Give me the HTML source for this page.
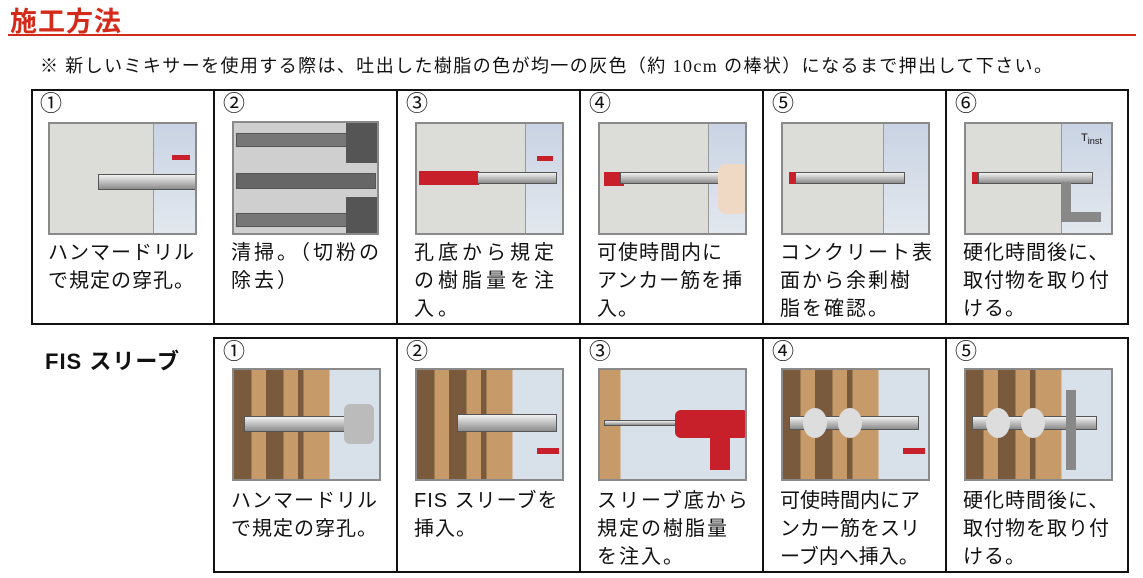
<!DOCTYPE html>
<html><head><meta charset="utf-8">
<style>
*{margin:0;padding:0;box-sizing:border-box}
body{width:1143px;height:578px;background:#fff;position:relative;overflow:hidden;font-family:"Liberation Sans","Noto Sans CJK JP",sans-serif;color:#111}
.a{position:absolute}
.title{left:10px;top:0px;font-size:27px;font-weight:bold;color:#d42a1a;letter-spacing:1px}
.rule{left:8px;top:34px;width:1128px;height:2px;background:#d42a1a}
.note{left:40px;top:52px;font-size:18px;white-space:nowrap;letter-spacing:1.4px;font-family:"Liberation Serif","Noto Sans CJK JP",serif}
.tbl{border:2px solid #111}
.vl{width:2px;background:#111}
.num{font-size:22px;line-height:22px}
.txt{font-size:20px;line-height:28px;white-space:nowrap;letter-spacing:1px}
.pc{border:2px solid #8a8a8a;background:#dcdcd8;overflow:hidden}
.pc .sky{position:absolute;top:0;bottom:0;background:linear-gradient(#c9d3e3,#e3e8ef);border-left:1px solid #999}
.pb{border:2px solid #8a8a8a;overflow:hidden;background:linear-gradient(90deg,#7a5a3c 0 12%,#c79a6a 12% 22%,#7a5a3c 22% 34%,#c79a6a 34% 44%,#7a5a3c 44% 48%,#c79a6a 48% 66%,#d8e0ea 66%)}
.rod{position:absolute;height:12px;background:linear-gradient(#f2f2f2,#8c8c8c);border:1px solid #555}
.red{position:absolute;background:#c8202a}
</style></head><body>
<div class="a title">施工方法</div>
<div class="a rule"></div>
<div class="a note">※ 新しいミキサーを使用する際は、吐出した樹脂の色が均一の灰色（約 10cm の棒状）になるまで押出して下さい。</div>

<div class="a tbl" style="left:31px;top:89px;width:1098px;height:236px"></div>
<div class="a vl" style="left:213px;top:89px;height:236px"></div>
<div class="a vl" style="left:396px;top:89px;height:236px"></div>
<div class="a vl" style="left:579px;top:89px;height:236px"></div>
<div class="a vl" style="left:762px;top:89px;height:236px"></div>
<div class="a vl" style="left:945px;top:89px;height:236px"></div>

<div class="a num" style="left:40px;top:93px">①</div>
<div class="a num" style="left:223px;top:93px">②</div>
<div class="a num" style="left:406px;top:93px">③</div>
<div class="a num" style="left:589px;top:93px">④</div>
<div class="a num" style="left:772px;top:93px">⑤</div>
<div class="a num" style="left:955px;top:93px">⑥</div>

<div class="a pc" style="left:48px;top:122px;width:149px;height:113px"><div class="sky" style="left:103px;right:0"></div><div class="rod" style="left:48px;top:50px;width:100px;height:16px"></div><div class="red" style="left:122px;top:31px;width:18px;height:5px"></div></div>
<div class="a pc" style="left:232px;top:121px;width:147px;height:114px;background:#cfcfcf"><div class="rod" style="left:2px;top:10px;width:120px;height:14px;background:#777"></div><div class="rod" style="left:2px;top:50px;width:140px;height:16px;background:#666"></div><div class="rod" style="left:2px;top:90px;width:120px;height:14px;background:#777"></div><div class="a" style="left:112px;top:0;width:35px;height:40px;background:#555"></div><div class="a" style="left:112px;top:74px;width:35px;height:40px;background:#555"></div></div>
<div class="a pc" style="left:415px;top:122px;width:149px;height:113px"><div class="sky" style="left:108px;right:0"></div><div class="red" style="left:2px;top:47px;width:60px;height:14px"></div><div class="rod" style="left:60px;top:48px;width:80px"></div><div class="red" style="left:120px;top:32px;width:16px;height:5px"></div></div>
<div class="a pc" style="left:598px;top:122px;width:149px;height:113px"><div class="sky" style="left:108px;right:0"></div><div class="red" style="left:4px;top:48px;width:20px;height:14px"></div><div class="rod" style="left:20px;top:48px;width:100px"></div><div class="a" style="left:118px;top:40px;width:30px;height:50px;background:#f0d9c4;border-radius:8px"></div></div>
<div class="a pc" style="left:781px;top:122px;width:149px;height:113px"><div class="sky" style="left:100px;right:0"></div><div class="red" style="left:6px;top:48px;width:8px;height:12px"></div><div class="rod" style="left:12px;top:48px;width:110px"></div></div>
<div class="a pc" style="left:964px;top:122px;width:149px;height:113px"><div class="sky" style="left:95px;right:0"></div><div class="red" style="left:6px;top:48px;width:8px;height:12px"></div><div class="rod" style="left:12px;top:48px;width:115px"></div><div class="a" style="left:95px;top:58px;width:40px;height:40px;border-left:10px solid #888;border-bottom:10px solid #888"></div><div class="a" style="left:115px;top:8px;font-size:11px">T<sub>inst</sub></div></div>

<div class="a txt" style="left:48px;top:239px">ハンマードリル<br>で規定の穿孔。</div>
<div class="a txt" style="left:231px;top:239px;letter-spacing:3px">清掃。（切粉の<br>除去）</div>
<div class="a txt" style="left:414px;top:239px;letter-spacing:4px">孔底から規定<br>の樹脂量を注<br>入。</div>
<div class="a txt" style="left:597px;top:239px">可使時間内に<br>アンカー筋を挿<br>入。</div>
<div class="a txt" style="left:780px;top:239px;letter-spacing:2px">コンクリート表<br>面から余剰樹<br>脂を確認。</div>
<div class="a txt" style="left:963px;top:239px">硬化時間後に、<br>取付物を取り付<br>ける。</div>

<div class="a" style="left:45px;top:344px;font-size:22px;font-weight:bold;letter-spacing:1px">FIS スリーブ</div>
<div class="a tbl" style="left:213px;top:337px;width:916px;height:236px"></div>
<div class="a vl" style="left:396px;top:337px;height:236px"></div>
<div class="a vl" style="left:579px;top:337px;height:236px"></div>
<div class="a vl" style="left:762px;top:337px;height:236px"></div>
<div class="a vl" style="left:945px;top:337px;height:236px"></div>

<div class="a num" style="left:223px;top:341px">①</div>
<div class="a num" style="left:406px;top:341px">②</div>
<div class="a num" style="left:589px;top:341px">③</div>
<div class="a num" style="left:772px;top:341px">④</div>
<div class="a num" style="left:955px;top:341px">⑤</div>

<div class="a pb" style="left:232px;top:368px;width:149px;height:113px"><div class="rod" style="left:10px;top:46px;width:110px;height:16px"></div><div class="a" style="left:110px;top:34px;width:30px;height:40px;background:#bbb;border-radius:6px"></div></div>
<div class="a pb" style="left:415px;top:368px;width:149px;height:113px"><div class="rod" style="left:40px;top:44px;width:100px;height:18px"></div><div class="red" style="left:120px;top:78px;width:22px;height:6px"></div></div>
<div class="a pb" style="left:598px;top:368px;width:149px;height:113px;background:linear-gradient(90deg,#c79a6a 0 14%,#d8e0ea 14%)"><div class="rod" style="left:4px;top:50px;width:80px;height:6px"></div><div class="red" style="left:75px;top:40px;width:74px;height:28px;border-radius:6px"></div><div class="red" style="left:110px;top:60px;width:20px;height:40px"></div></div>
<div class="a pb" style="left:781px;top:368px;width:149px;height:113px"><div class="rod" style="left:6px;top:46px;width:130px;height:14px"></div><div class="a" style="left:20px;top:38px;width:24px;height:30px;background:#ddd;border-radius:50%"></div><div class="a" style="left:55px;top:38px;width:24px;height:30px;background:#ddd;border-radius:50%"></div><div class="red" style="left:120px;top:78px;width:22px;height:6px"></div></div>
<div class="a pb" style="left:964px;top:368px;width:149px;height:113px"><div class="rod" style="left:6px;top:46px;width:125px;height:14px"></div><div class="a" style="left:20px;top:38px;width:24px;height:30px;background:#ddd;border-radius:50%"></div><div class="a" style="left:55px;top:38px;width:24px;height:30px;background:#ddd;border-radius:50%"></div><div class="a" style="left:100px;top:20px;width:40px;height:80px;border-left:10px solid #888"></div></div>

<div class="a txt" style="left:231px;top:487px">ハンマードリル<br>で規定の穿孔。</div>
<div class="a txt" style="left:414px;top:487px">FIS スリーブを<br>挿入。</div>
<div class="a txt" style="left:597px;top:487px;letter-spacing:2px">スリーブ底から<br>規定の樹脂量<br>を注入。</div>
<div class="a txt" style="left:780px;top:487px;letter-spacing:0">可使時間内にア<br>ンカー筋をスリ<br>ーブ内へ挿入。</div>
<div class="a txt" style="left:963px;top:487px">硬化時間後に、<br>取付物を取り付<br>ける。</div>
</body></html>
